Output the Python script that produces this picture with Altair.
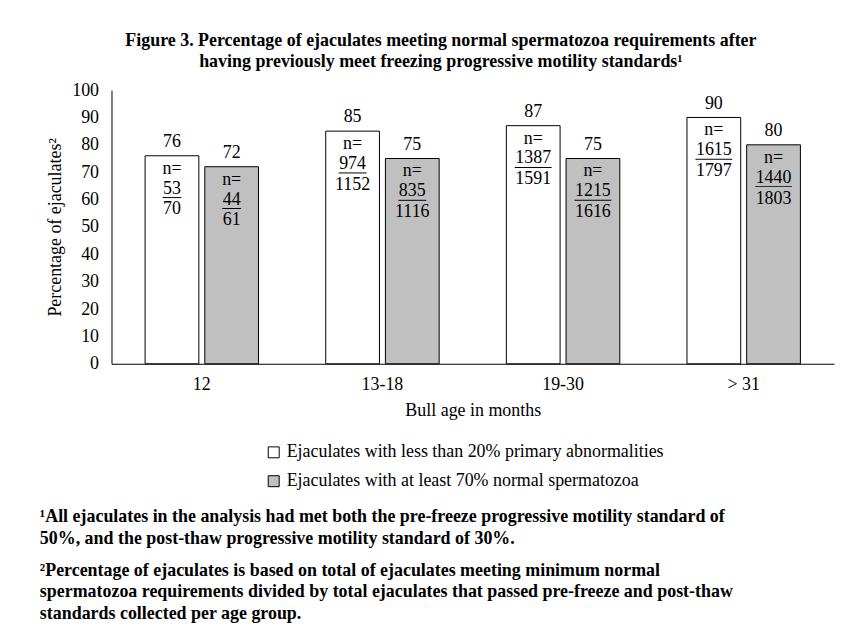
import altair as alt
import pandas as pd

categories = ["12", "13-18", "19-30", "> 31"]
series_names = [
    "Ejaculates with less than 20% primary abnormalities",
    "Ejaculates with at least 70% normal spermatozoa",
]
pct_less20 = [76, 85, 87, 90]
pct_normal70 = [72, 75, 75, 80]
num_less20 = [53, 974, 1387, 1615]
den_less20 = [70, 1152, 1591, 1797]
num_normal70 = [44, 835, 1215, 1440]
den_normal70 = [61, 1116, 1616, 1803]
y_ticks = list(range(0, 101, 10))

title_lines = [
    "Figure 3. Percentage of ejaculates meeting normal spermatozoa requirements after",
    "having previously meet freezing progressive motility standards\u00b9",
]
footnote1 = [
    "\u00b9All ejaculates in the analysis had met both the pre-freeze progressive motility standard of",
    "50%, and the post-thaw progressive motility standard of 30%.",
]
footnote2 = [
    "\u00b2Percentage of ejaculates is based on total of ejaculates meeting minimum normal",
    "spermatozoa requirements divided by total ejaculates that passed pre-freeze and post-thaw",
    "standards collected per age group.",
]

rows = []
for i, c in enumerate(categories):
    rows.append(dict(age=c, series=series_names[0], pct=pct_less20[i],
                     num=str(num_less20[i]), den=str(den_less20[i])))
    rows.append(dict(age=c, series=series_names[1], pct=pct_normal70[i],
                     num=str(num_normal70[i]), den=str(den_normal70[i])))
df = pd.DataFrame(rows)
df["n_label"] = "n="
df["ulen"] = df["num"].str.len() * 9 + 1

FONT = "Liberation Serif"
FS = 18

x = alt.X("age:N", sort=categories,
          scale=alt.Scale(paddingInner=0.372, paddingOuter=0.186),
          axis=alt.Axis(title="Bull age in months", labelAngle=0, ticks=False,
                        labelPadding=12, titlePadding=8, domainColor="black",
                        labelFont=FONT, titleFont=FONT, labelFontSize=FS,
                        titleFontSize=FS, titleFontWeight="normal",
                        labelColor="black", titleColor="black"))
xo = alt.XOffset("series:N", sort=series_names, scale=alt.Scale(paddingInner=0.1))
y = alt.Y("pct:Q", scale=alt.Scale(domain=[0, 100]),
          axis=alt.Axis(values=y_ticks, title="Percentage of ejaculates\u00b2",
                        ticks=False, grid=False, labelPadding=13, titlePadding=7,
                        domainColor="black", labelFont=FONT, titleFont=FONT,
                        labelFontSize=FS, titleFontSize=FS, titleFontWeight="normal",
                        labelColor="black", titleColor="black"))

base = alt.Chart(df).encode(x=x, xOffset=xo, y=y)

bars = base.mark_bar(stroke="black", strokeWidth=1).encode(
    fill=alt.Fill("series:N", sort=series_names,
                  scale=alt.Scale(domain=series_names, range=["#ffffff", "#c0c0c0"]),
                  legend=alt.Legend(title=None, orient="none", legendX=154, legendY=355,
                                    symbolType="square", symbolSize=121,
                                    symbolStrokeColor="black", symbolStrokeWidth=1,
                                    labelFont=FONT, labelFontSize=FS, labelColor="black",
                                    labelOffset=4, rowPadding=11, padding=0,
                                    labelLimit=600))
)

tstyle = dict(font=FONT, fontSize=FS, color="black", baseline="middle")
val = base.mark_text(dy=-14, **tstyle).encode(text="pct:Q")
nlab = base.mark_text(dy=13, **tstyle).encode(text="n_label:N")
numt = base.mark_text(dy=33, **tstyle).encode(text="num:N")
dent = base.mark_text(dy=54, **tstyle).encode(text="den:N")
ul = base.mark_tick(orient="horizontal", thickness=1, color="black", yOffset=42,
                    opacity=1).encode(size=alt.Size("ulen:Q", scale=None, legend=None))

one = pd.DataFrame({"k": [0]})
fstyle = dict(font=FONT, fontSize=FS, fontWeight="bold", color="black",
              align="left", baseline="middle")
fn1 = alt.Chart(one).mark_text(text=footnote1, lineHeight=22.5, **fstyle).encode(
    x=alt.value(-72), y=alt.value(429))
fn2 = alt.Chart(one).mark_text(text=footnote2, lineHeight=21.5, **fstyle).encode(
    x=alt.value(-72), y=alt.value(483))

chart = alt.layer(bars, val, nlab, numt, dent, ul, fn1, fn2).properties(
    width=726, height=275,
    autosize="none",
    padding={"left": 104, "top": 81, "right": 2, "bottom": 259},
    title=alt.TitleParams(text=title_lines, font=FONT, fontSize=FS, fontWeight="bold",
                          anchor="middle", dx=-32, offset=10, lineHeight=21,
                          color="black"),
).configure_view(stroke=None)

chart.save("out.html", embed_options={"renderer": "svg", "actions": False})
